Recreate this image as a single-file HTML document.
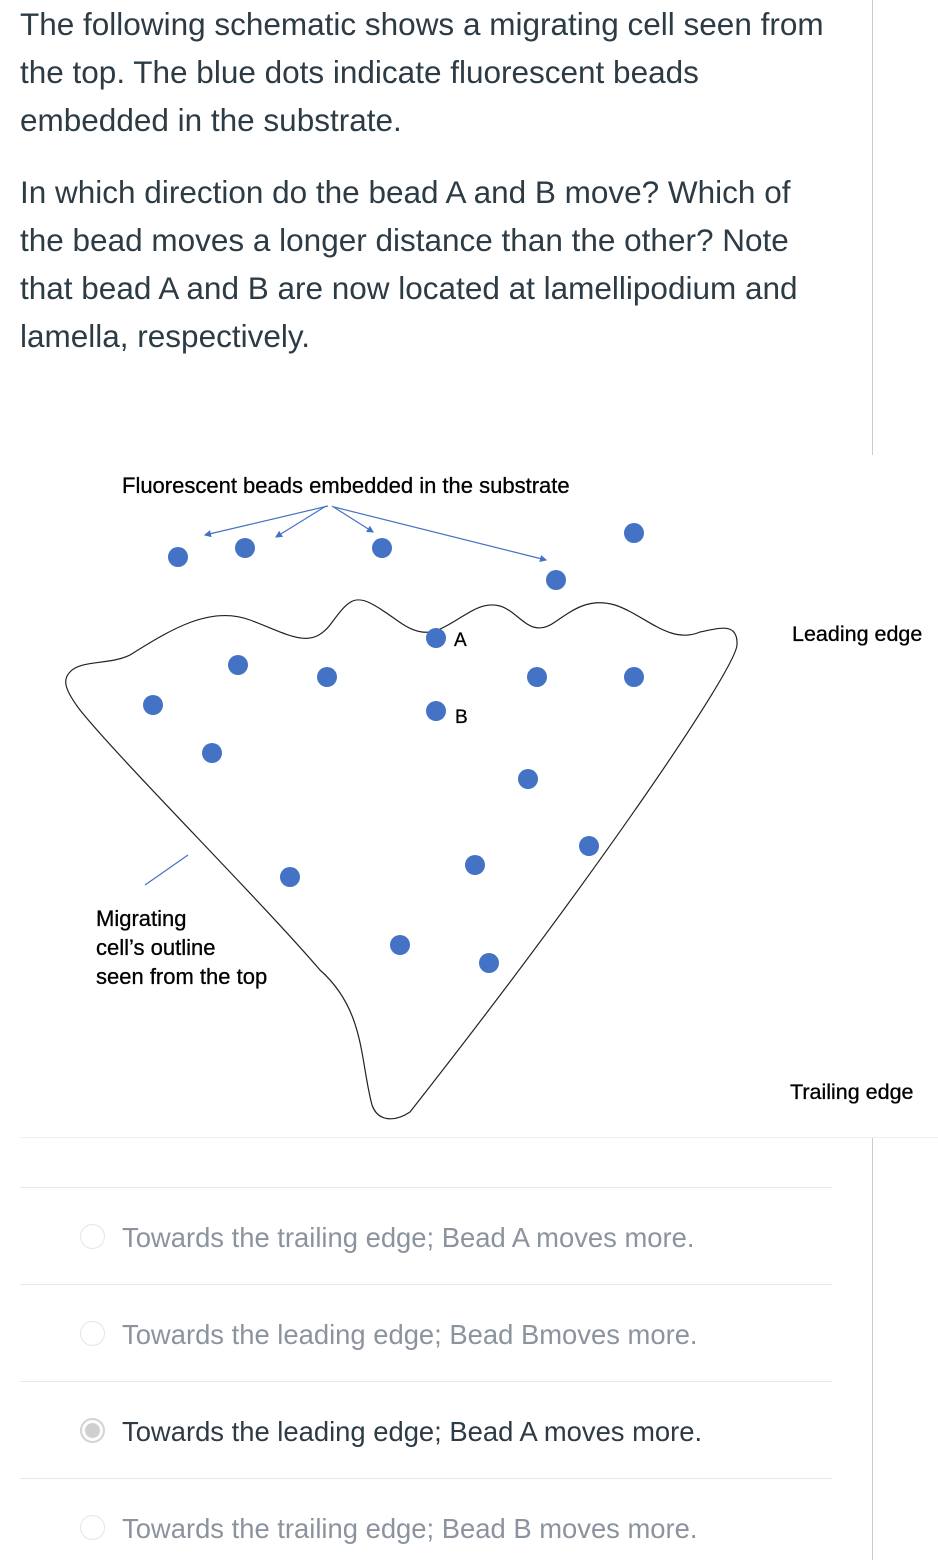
<!DOCTYPE html>
<html><head><meta charset="utf-8">
<style>
body{margin:0;width:938px;height:1560px;background:#fff;position:relative;overflow:hidden;font-family:"Liberation Sans",sans-serif;}
.q{position:absolute;left:20px;font-size:31.5px;color:#2d3b45;white-space:nowrap;line-height:48px;}
.vline{position:absolute;left:872px;width:1px;background:#c7cdd1;}
.hr{position:absolute;left:20px;width:812px;height:1px;background:#e6e8ea;}
.opt{position:absolute;left:80px;font-size:27.4px;color:#8b949e;white-space:nowrap;line-height:30px;}
.radio{display:inline-block;width:25px;height:25px;border:1.5px solid #e3e5e7;border-radius:50%;box-sizing:border-box;vertical-align:middle;margin-right:17px;position:relative;top:-3px;}
.sel{border:2px solid #d3d3d3;background:radial-gradient(circle,#cfcfcf 0 7px,#fff 8px);}
</style></head><body>
<div class="q" style="top:0">The following schematic shows a migrating cell seen from</div>
<div class="q" style="top:48px">the top. The blue dots indicate fluorescent beads</div>
<div class="q" style="top:96px">embedded in the substrate.</div>
<div class="q" style="top:168px">In which direction do the bead A and B move? Which of</div>
<div class="q" style="top:216px">the bead moves a longer distance than the other? Note</div>
<div class="q" style="top:264px">that bead A and B are now located at lamellipodium and</div>
<div class="q" style="top:312px">lamella, respectively.</div>
<div class="vline" style="top:0;height:455px"></div>
<div class="vline" style="top:1138px;height:422px"></div>
<div style="position:absolute;left:20px;top:1137px;width:918px;height:1px;background:#eef0f1"></div>

<svg style="position:absolute;left:0;top:0" width="938" height="1140">
<defs><marker id="ah" markerWidth="6" markerHeight="6" refX="5" refY="3" orient="auto"><path d="M0,0L6,3L0,6z" fill="#4472c4"/></marker></defs>
<text x="122" y="493" font-size="22" fill="#000" stroke="#000" stroke-width="0.3">Fluorescent beads embedded in the substrate</text>
<g stroke="#4472c4" stroke-width="1.2" marker-end="url(#ah)">
<line x1="328" y1="506" x2="205" y2="535"/><line x1="326" y1="506" x2="276" y2="537"/><line x1="332" y1="506" x2="373" y2="532"/><line x1="334" y1="507" x2="546" y2="560"/>
</g>
<path fill="none" stroke="#222" stroke-width="1.2"
d="M70,672 C80,660 110,665 130,655 C170,630 210,605 250,620 C290,635 310,650 330,625 C345,605 352,594 370,603 C395,615 412,640 438,630 C462,620 478,600 500,606 C520,612 530,640 555,622 C575,608 590,598 615,605 C645,615 670,645 700,632 C720,628 738,622 737,645 C735,670 600,870 410,1112 C395,1122 378,1122 372,1105 C360,1060 365,1010 320,970 C260,900 120,760 80,710 C65,690 62,680 70,672 Z"/>
<line x1="145" y1="885" x2="188" y2="855" stroke="#4472c4" stroke-width="1.2"/>
<g id="beads" fill="#4472c4"></g>
<text x="454" y="646" font-size="19" fill="#000" stroke="#000" stroke-width="0.3">A</text>
<text x="455" y="723" font-size="19" fill="#000" stroke="#000" stroke-width="0.3">B</text>
<text font-size="22" fill="#000" stroke="#000" stroke-width="0.3"><tspan x="96" y="926">Migrating</tspan><tspan x="96" y="955">cell’s outline</tspan><tspan x="96" y="984">seen from the top</tspan></text>
<text x="792" y="641" font-size="21.5" fill="#000" stroke="#000" stroke-width="0.3">Leading edge</text>
<text x="790" y="1099" font-size="21.5" fill="#000" stroke="#000" stroke-width="0.3">Trailing edge</text>
</svg>
<script>
const beadX=[178,245,382,556,634,436,238,327,537,634,153,436,212,528,589,290,475,400,489];
const beadY=[557,548,548,580,533,638,665,677,677,677,705,711,753,779,846,877,865,945,963];
const g=document.getElementById('beads');
for(let i=0;i<beadX.length;i++){
 const c=document.createElementNS('http://www.w3.org/2000/svg','circle');
 c.setAttribute('cx',beadX[i]);c.setAttribute('cy',beadY[i]);c.setAttribute('r',10);
 
 
 g.appendChild(c);
}
</script>

<div class="hr" style="top:1187px"></div>
<div class="opt" style="top:1223px"><span class="radio"></span>Towards the trailing edge; Bead A moves more.</div>
<div class="hr" style="top:1284px"></div>
<div class="opt" style="top:1320px"><span class="radio"></span>Towards the leading edge; Bead Bmoves more.</div>
<div class="hr" style="top:1381px"></div>
<div class="opt" style="top:1417px;color:#2d3b45"><span class="radio sel"></span>Towards the leading edge; Bead A moves more.</div>
<div class="hr" style="top:1478px"></div>
<div class="opt" style="top:1514px"><span class="radio"></span>Towards the trailing edge; Bead B moves more.</div>
</body></html>
